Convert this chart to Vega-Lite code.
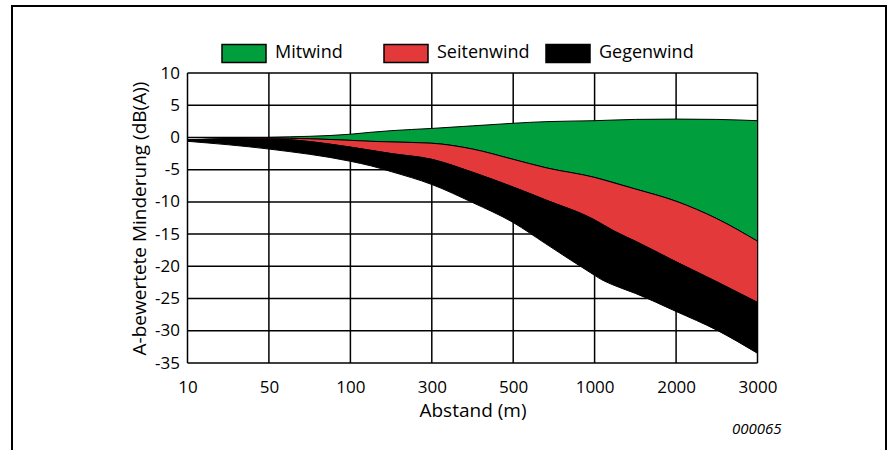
{
  "$schema": "https://vega.github.io/schema/vega-lite/v6.json",
  "autosize": {"type": "none"},
  "width": 874,
  "height": 446,
  "padding": {"left": 12, "top": 6, "right": 3, "bottom": -2},
  "background": "white",
  "config": {
    "font": "Open Sans",
    "view": {"stroke": "black", "strokeWidth": 2, "fill": "white"}
  },
  "datasets": {
    "baender": [
      {"Abstand": 10, "Wind": "Mitwind", "oben": -0.35, "unten": -0.4},
      {"Abstand": 50, "Wind": "Mitwind", "oben": 0.0, "unten": -0.1},
      {"Abstand": 100, "Wind": "Mitwind", "oben": 0.5, "unten": -0.45},
      {"Abstand": 150, "Wind": "Mitwind", "oben": 0.8, "unten": -0.6},
      {"Abstand": 200, "Wind": "Mitwind", "oben": 1.05, "unten": -0.7},
      {"Abstand": 300, "Wind": "Mitwind", "oben": 1.4, "unten": -0.9},
      {"Abstand": 400, "Wind": "Mitwind", "oben": 1.8, "unten": -1.8},
      {"Abstand": 500, "Wind": "Mitwind", "oben": 2.2, "unten": -3.4},
      {"Abstand": 700, "Wind": "Mitwind", "oben": 2.45, "unten": -4.7},
      {"Abstand": 1000, "Wind": "Mitwind", "oben": 2.6, "unten": -6.2},
      {"Abstand": 1500, "Wind": "Mitwind", "oben": 2.8, "unten": -8.0},
      {"Abstand": 2000, "Wind": "Mitwind", "oben": 2.85, "unten": -9.9},
      {"Abstand": 2500, "Wind": "Mitwind", "oben": 2.8, "unten": -12.6},
      {"Abstand": 3000, "Wind": "Mitwind", "oben": 2.6, "unten": -16.1},
      {"Abstand": 10, "Wind": "Seitenwind", "oben": -0.4, "unten": -0.45},
      {"Abstand": 50, "Wind": "Seitenwind", "oben": -0.1, "unten": -0.25},
      {"Abstand": 100, "Wind": "Seitenwind", "oben": -0.45, "unten": -1.5},
      {"Abstand": 150, "Wind": "Seitenwind", "oben": -0.6, "unten": -2.0},
      {"Abstand": 200, "Wind": "Seitenwind", "oben": -0.7, "unten": -2.5},
      {"Abstand": 300, "Wind": "Seitenwind", "oben": -0.9, "unten": -3.4},
      {"Abstand": 400, "Wind": "Seitenwind", "oben": -1.8, "unten": -5.4},
      {"Abstand": 500, "Wind": "Seitenwind", "oben": -3.4, "unten": -7.7},
      {"Abstand": 700, "Wind": "Seitenwind", "oben": -4.7, "unten": -9.7},
      {"Abstand": 1000, "Wind": "Seitenwind", "oben": -6.2, "unten": -12.8},
      {"Abstand": 1250, "Wind": "Seitenwind", "oben": -7.1, "unten": -14.6},
      {"Abstand": 1500, "Wind": "Seitenwind", "oben": -8.0, "unten": -16.1},
      {"Abstand": 2000, "Wind": "Seitenwind", "oben": -9.9, "unten": -19.3},
      {"Abstand": 2500, "Wind": "Seitenwind", "oben": -12.6, "unten": -22.4},
      {"Abstand": 3000, "Wind": "Seitenwind", "oben": -16.1, "unten": -25.6},
      {"Abstand": 10, "Wind": "Gegenwind", "oben": -0.45, "unten": -0.6},
      {"Abstand": 50, "Wind": "Gegenwind", "oben": -0.25, "unten": -1.8},
      {"Abstand": 100, "Wind": "Gegenwind", "oben": -1.5, "unten": -3.7},
      {"Abstand": 150, "Wind": "Gegenwind", "oben": -2.0, "unten": -4.4},
      {"Abstand": 200, "Wind": "Gegenwind", "oben": -2.5, "unten": -5.3},
      {"Abstand": 300, "Wind": "Gegenwind", "oben": -3.4, "unten": -7.3},
      {"Abstand": 400, "Wind": "Gegenwind", "oben": -5.4, "unten": -10.1},
      {"Abstand": 500, "Wind": "Gegenwind", "oben": -7.7, "unten": -13.2},
      {"Abstand": 700, "Wind": "Gegenwind", "oben": -9.7, "unten": -16.5},
      {"Abstand": 1000, "Wind": "Gegenwind", "oben": -12.8, "unten": -21.4},
      {"Abstand": 1090, "Wind": "Gegenwind", "oben": -13.45, "unten": -22.1},
      {"Abstand": 1250, "Wind": "Gegenwind", "oben": -14.6, "unten": -23.0},
      {"Abstand": 1500, "Wind": "Gegenwind", "oben": -16.1, "unten": -24.2},
      {"Abstand": 2000, "Wind": "Gegenwind", "oben": -19.3, "unten": -27.0},
      {"Abstand": 2500, "Wind": "Gegenwind", "oben": -22.4, "unten": -29.9},
      {"Abstand": 3000, "Wind": "Gegenwind", "oben": -25.6, "unten": -33.5}
    ],
    "xraster": [
      {"Abstand": 10}, {"Abstand": 50}, {"Abstand": 100}, {"Abstand": 300},
      {"Abstand": 500}, {"Abstand": 1000}, {"Abstand": 2000}, {"Abstand": 3000}
    ],
    "yraster": [
      {"dB": 10}, {"dB": 5}, {"dB": 0}, {"dB": -5}, {"dB": -10},
      {"dB": -15}, {"dB": -20}, {"dB": -25}, {"dB": -30}, {"dB": -35}
    ]
  },
  "layer": [
    {
      "data": {"name": "xraster"},
      "mark": {"type": "rule", "color": "black", "strokeWidth": 1.5},
      "encoding": {
        "x": {
          "field": "Abstand",
          "type": "quantitative",
          "title": "Abstand (m)",
          "scale": {
            "domain": [10, 50, 100, 300, 500, 1000, 2000, 3000],
            "range": [175.5, 256.9, 338.4, 419.8, 501.2, 582.6, 664.1, 745.5],
            "nice": false,
            "zero": false
          },
          "axis": {
            "values": [10, 50, 100, 300, 500, 1000, 2000, 3000],
            "labelExpr": "toString(datum.value)",
            "offset": -89,
            "domain": false,
            "ticks": false,
            "grid": false,
            "labelFlush": false,
            "labelOverlap": false,
            "labelPadding": 16,
            "labelFontSize": 17,
            "labelColor": "black",
            "titleFontSize": 19,
            "titleFontWeight": "normal",
            "titleColor": "black",
            "titlePadding": 6
          }
        },
        "y": {
          "datum": -35,
          "type": "quantitative",
          "title": "A-bewertete Minderung (dB(A))",
          "scale": {"domain": [-35, 10], "range": [357, 67], "nice": false, "zero": false},
          "axis": {
            "values": [10, 5, 0, -5, -10, -15, -20, -25, -30, -35],
            "labelExpr": "toString(datum.value)",
            "offset": -175.5,
            "domain": false,
            "ticks": false,
            "grid": false,
            "labelPadding": 8,
            "labelFontSize": 17,
            "labelColor": "black",
            "titleFontSize": 19,
            "titleFontWeight": "normal",
            "titleColor": "black",
            "titlePadding": 5
          }
        },
        "y2": {"datum": 10}
      }
    },
    {
      "data": {"name": "yraster"},
      "mark": {"type": "rule", "color": "black", "strokeWidth": 1.5},
      "encoding": {
        "y": {"field": "dB", "type": "quantitative", "title": "A-bewertete Minderung (dB(A))"},
        "x": {"datum": 10, "type": "quantitative", "title": "Abstand (m)"},
        "x2": {"datum": 3000}
      }
    },
    {
      "data": {"name": "baender"},
      "mark": {"type": "area", "interpolate": "monotone", "stroke": "black", "strokeWidth": 1, "strokeJoin": "round", "opacity": 1},
      "encoding": {
        "x": {"field": "Abstand", "type": "quantitative", "title": "Abstand (m)"},
        "y": {"field": "oben", "type": "quantitative", "title": "A-bewertete Minderung (dB(A))"},
        "y2": {"field": "unten"},
        "color": {
          "field": "Wind",
          "type": "nominal",
          "scale": {
            "domain": ["Mitwind", "Seitenwind", "Gegenwind"],
            "range": ["#009E3D", "#E3393A", "#000000"]
          },
          "legend": {
            "title": null,
            "orient": "none",
            "legendX": 209,
            "legendY": 24,
            "direction": "horizontal",
            "columns": 3,
            "gridAlign": "all",
            "columnPadding": 11,
            "symbolType": "M-1,-0.41H1V0.41H-1Z",
            "symbolSize": 1936,
            "symbolStrokeColor": "black",
            "symbolStrokeWidth": 1.5,
            "symbolOpacity": 1,
            "labelFontSize": 18,
            "labelOffset": 8,
            "labelColor": "black"
          }
        }
      }
    },
    {
      "data": {"values": [{"Kennung": "000065"}]},
      "mark": {"type": "text", "fontStyle": "italic", "fontSize": 15, "align": "right", "baseline": "middle", "dx": 24, "color": "black"},
      "encoding": {
        "text": {"field": "Kennung", "type": "nominal"},
        "x": {"datum": 3000, "type": "quantitative"},
        "y": {"datum": -45.3, "type": "quantitative"}
      }
    }
  ]
}
